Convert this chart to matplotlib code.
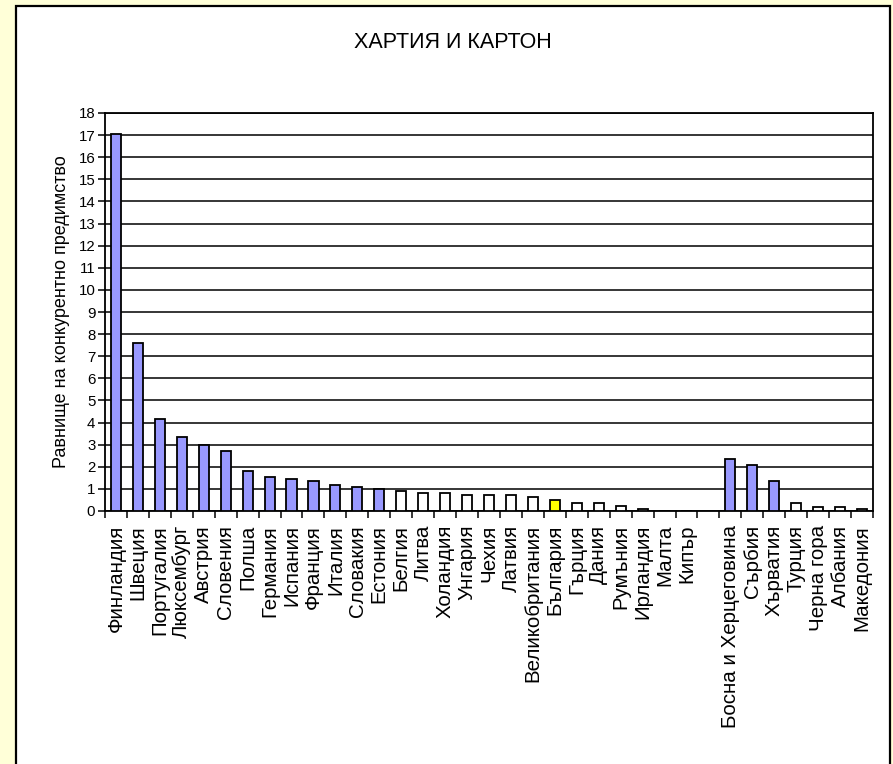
import matplotlib.pyplot as plt
from matplotlib.patches import Rectangle
import numpy as np

plt.rcParams['font.family'] = ['Liberation Sans', 'DejaVu Sans']

# --- Data ---
countries = ["Финландия", "Швеция", "Португалия", "Люксембург", "Австрия",
             "Словения", "Полша", "Германия", "Испания", "Франция", "Италия",
             "Словакия", "Естония", "Белгия", "Литва", "Холандия", "Унгария",
             "Чехия", "Латвия", "Великобритания", "България", "Гърция", "Дания",
             "Румъния", "Ирландия", "Малта", "Кипър", "",
             "Босна и Херцеговина", "Сърбия", "Хърватия", "Турция",
             "Черна гора", "Албания", "Македония"]
values = [17.05, 7.6, 4.18, 3.35, 3.0, 2.73, 1.82, 1.54, 1.45, 1.35, 1.17,
          1.08, 0.99, 0.9, 0.81, 0.81, 0.72, 0.71, 0.71, 0.62, 0.52, 0.35,
          0.35, 0.24, 0.09, 0.0, 0.0, np.nan,
          2.34, 2.08, 1.35, 0.35, 0.17, 0.17, 0.08]
# group: "hi" = blue, "lo" = white, "bg" = Bulgaria highlight
groups = ["hi"] * 13 + ["lo"] * 7 + ["bg"] + ["lo"] * 6 + [None] + \
         ["hi"] * 3 + ["lo"] * 4
palette = {"hi": "#9999FF", "lo": "#FFFFFF", "bg": "#FFFF00", None: "#FFFFFF"}

W, H = 893, 764
fig = plt.figure(figsize=(W / 100, H / 100), dpi=100)
fig.patch.set_facecolor("#FFFFD8")

# white chart frame
frame = Rectangle((16 / W, -0.05), (890 - 16) / W, 1.05 - 6 / H,
                  transform=fig.transFigure, facecolor="white",
                  edgecolor="black", linewidth=1.6, zorder=-1)
fig.patches.append(frame)

ax = fig.add_axes([105 / W, (H - 511) / H, (873 - 105) / W, (511 - 113) / H])
ax.set_zorder(2)
ax.set_facecolor("white")

x = np.arange(len(countries))
colors = [palette[g] for g in groups]
ax.bar(x, values, width=0.46, color=colors, edgecolor="black",
       linewidth=1.3, zorder=3)

ax.set_xlim(-0.5, len(countries) - 0.5)
ax.set_ylim(0, 18)
ax.set_yticks(range(0, 19))
ax.yaxis.grid(True, color="black", linewidth=1.1, zorder=1)
ax.set_axisbelow(True)

ax.set_xticks(x)
ax.set_xticklabels(countries, rotation=90, fontsize=14.8, va="top")
ax.tick_params(axis="x", which="major", length=0, pad=10)
ax.set_xticks(np.arange(-0.5, len(countries)), minor=True)
ax.tick_params(axis="x", which="minor", length=5, width=1.1, direction="out")
ax.tick_params(axis="y", length=5, width=1.1, labelsize=10.8, pad=2)

for s in ax.spines.values():
    s.set_color("black")
    s.set_linewidth(1.3)

ax.set_ylabel("Равнище на конкурентно предимство", fontsize=13)
ax.yaxis.set_label_coords((70 - 105) / (873 - 105), 0.5)

fig.text(453 / W, 1 - 42 / H, "ХАРТИЯ И КАРТОН", ha="center", va="center",
         fontsize=15.5)

fig.savefig("out.png", dpi=100, facecolor=fig.get_facecolor())
